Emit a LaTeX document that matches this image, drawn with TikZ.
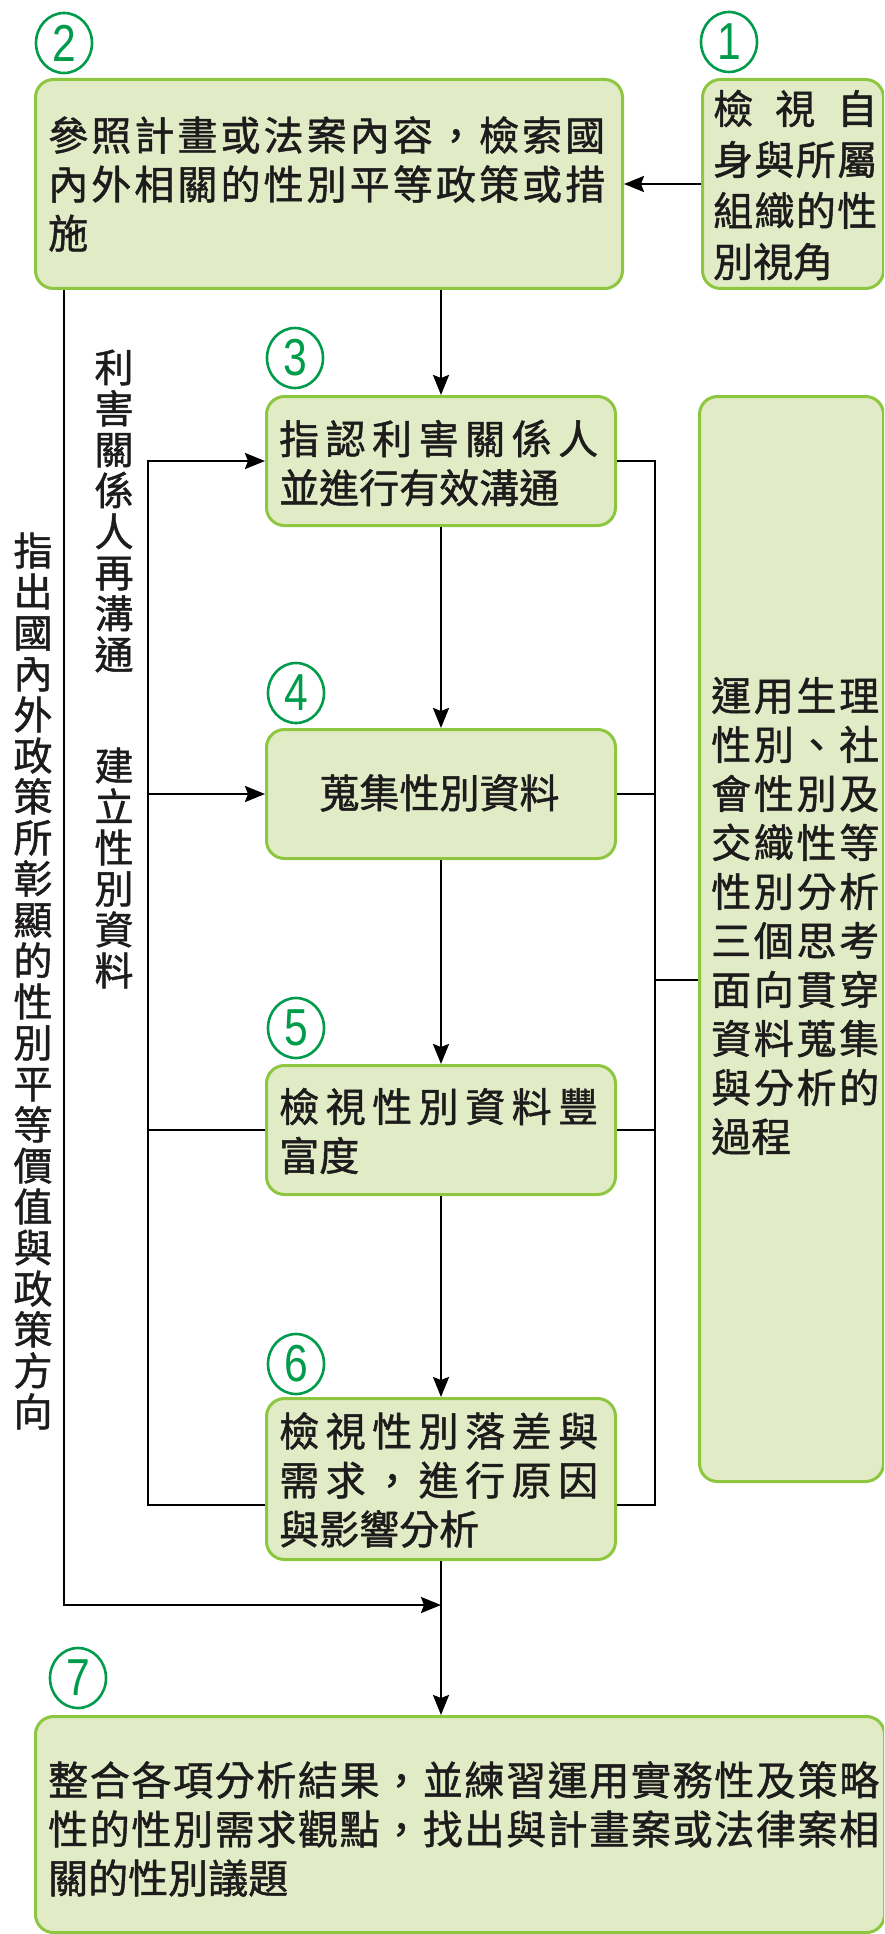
\documentclass[tikz,border=0pt]{standalone}
\usepackage{fontspec}
\setmainfont{Liberation Sans}
\newfontfamily\cjk{Noto Sans CJK TC}[FakeBold=1.2]
\newfontfamily\numfont{Liberation Sans}[FakeStretch=0.82]
\usetikzlibrary{arrows.meta,shapes.geometric}
\definecolor{boxfill}{RGB}{225,236,198}
\definecolor{boxline}{RGB}{141,198,63}
\definecolor{numgreen}{RGB}{0,155,75}
\definecolor{ink}{RGB}{30,27,28}
\def\spA#1{\ifx\relax#1\else#1\hfill\expandafter\spA\fi}
\newcommand\jl[2]{\makebox[#1][s]{\spA#2\relax\unskip}}
\begin{document}
\begin{tikzpicture}[x=1pt,y=-1pt,
  box/.style={draw=boxline, line width=3pt, fill=boxfill, rounded corners=18pt, inner sep=0pt, anchor=north west},
  txt/.style={font=\cjk\fontsize{40}{49}\selectfont, text=ink, align=left, inner sep=0pt},
  num/.style={ellipse, draw=numgreen, line width=2.6pt, minimum width=56pt, minimum height=60pt, inner sep=0pt, text=numgreen, font=\numfont\fontsize{52}{52}\selectfont},
  vtxt/.style={font=\cjk\fontsize{39}{41}\selectfont, text=ink, align=center, inner sep=0pt},
  conn/.style={line width=2.4pt, draw=black},
  arr/.style={conn, -{Stealth[length=20pt,width=16pt,inset=3pt]}}
]
\clip (0,0) rectangle (884,1934);
\fill[white] (0,0) rectangle (884,1934);

% boxes
\node[box, minimum width=587pt, minimum height=209pt] (b2) at (34,78) {};
\node[box, minimum width=181pt, minimum height=209pt] (b1) at (701,78) {};
\node[box, minimum width=349pt, minimum height=129pt] (b3) at (265,395) {};
\node[box, minimum width=349pt, minimum height=129pt] (b4) at (265,728) {};
\node[box, minimum width=349pt, minimum height=129pt] (b5) at (265,1064) {};
\node[box, minimum width=349pt, minimum height=161pt] (b6) at (265,1397) {};
\node[box, minimum width=184pt, minimum height=1085pt] (b8) at (698,395) {};
\node[box, minimum width=849pt, minimum height=216pt] (b7) at (34,1715) {};

% texts
\node[txt, anchor=west] (t2) at (48,184) {\jl{557pt}{參照計畫或法案內容，檢索國}\\\jl{557pt}{內外相關的性別平等政策或措}\\施};
\node[txt, anchor=west, font=\cjk\fontsize{40}{51}\selectfont] (t1) at (713,185) {\jl{164pt}{檢視自}\\\jl{164pt}{身與所屬}\\\jl{164pt}{組織的性}\\別視角};
\node[txt, anchor=west] (t3) at (279,463) {\jl{319pt}{指認利害關係人}\\並進行有效溝通};
\node[txt, align=center] (t4) at (439.5,793) {蒐集性別資料};
\node[txt, anchor=west] (t5) at (279,1131) {\jl{319pt}{檢視性別資料豐}\\富度};
\node[txt, anchor=west] (t6) at (279,1480) {\jl{319pt}{檢視性別落差與}\\\jl{319pt}{需求，進行原因}\\與影響分析};
\node[txt, anchor=west] (t8) at (711,916) {\jl{168pt}{運用生理}\\\jl{168pt}{性別、社}\\\jl{168pt}{會性別及}\\\jl{168pt}{交織性等}\\\jl{168pt}{性別分析}\\\jl{168pt}{三個思考}\\\jl{168pt}{面向貫穿}\\\jl{168pt}{資料蒐集}\\\jl{168pt}{與分析的}\\過程};
\node[txt, anchor=west] (t7) at (48,1829) {\jl{831pt}{整合各項分析結果，並練習運用實務性及策略}\\\jl{831pt}{性的性別需求觀點，找出與計畫案或法律案相}\\關的性別議題};

% vertical texts
\node[vtxt] (v1) at (33,981) {指\\出\\國\\內\\外\\政\\策\\所\\彰\\顯\\的\\性\\別\\平\\等\\價\\值\\與\\政\\策\\方\\向};
\node[vtxt] (v2) at (114,511) {利\\害\\關\\係\\人\\再\\溝\\通};
\node[vtxt] (v3) at (114,868) {建\\立\\性\\別\\資\\料};

% numbers
\node[num] (n1) at (729,42) {1};
\node[num] (n2) at (64,43) {2};
\node[num] (n3) at (295,358) {3};
\node[num] (n4) at (296,693) {4};
\node[num] (n5) at (296,1028) {5};
\node[num] (n6) at (296,1364) {6};
\node[num] (n7) at (78,1678) {7};

% coordinates
\coordinate (c6l) at (148,1505);
\coordinate (c6r) at (655,1505);
\coordinate (m8) at (655,980);
\coordinate (lj) at (64,1605);

% connectors
\draw[arr] (b1.west) -- (b2.east);
\draw[arr] (b3.north |- b2.south) -- (b3.north);
\draw[arr] (b3.south) -- (b4.north);
\draw[arr] (b4.south) -- (b5.north);
\draw[arr] (b5.south) -- (b6.north);
\draw[arr] (b6.south) -- (b6.south |- b7.north);
\draw[arr] (b2.south -| lj) -- (lj) -- (b6.south |- lj);

\draw[arr] (b6.west |- c6l) -- (c6l) |- (b3.west);
\draw[arr] (c6l |- b4.west) -- (b4.west);
\draw[conn] (b5.west) -- (c6l |- b5.west);

\draw[conn] (b3.east) -| (c6r) -- (b6.east |- c6r);
\draw[conn] (b4.east) -- (c6r |- b4.east);
\draw[conn] (b5.east) -- (c6r |- b5.east);
\draw[conn] (m8) -- (b8.west |- m8);
\end{tikzpicture}
\end{document}
